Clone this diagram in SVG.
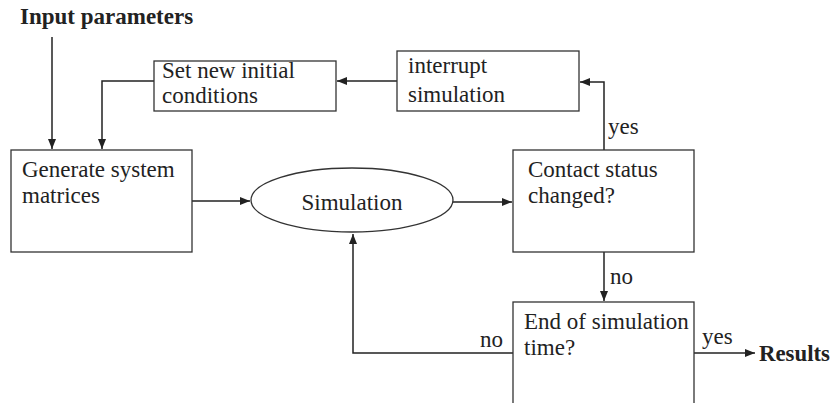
<svg xmlns="http://www.w3.org/2000/svg" width="833" height="403" viewBox="0 0 833 403">
<style>
.box{fill:#fff;stroke:#333;stroke-width:1.3}
.t{font-family:"Liberation Serif","Times New Roman",serif;font-size:23px;fill:#222}
.b{font-family:"Liberation Serif","Times New Roman",serif;font-size:23px;font-weight:bold;fill:#222}
.c{fill:none;stroke:#222;stroke-width:1.5}
</style>
<defs>
<marker id="ah" viewBox="0 0 10 10" refX="10" refY="5" markerWidth="10" markerHeight="10" markerUnits="userSpaceOnUse" orient="auto">
<path d="M0,1 L10,5 L0,9 Z" fill="#222"/>
</marker>
</defs>
<rect width="833" height="403" fill="#fff"/>
<g id="connectors">
<path class="c" d="M52,37 V149" marker-end="url(#ah)"/>
<path class="c" d="M154,81 H102 V149" marker-end="url(#ah)"/>
<path class="c" d="M397,81 H337" marker-end="url(#ah)"/>
<path class="c" d="M604,150 V82 H580" marker-end="url(#ah)"/>
<path class="c" d="M192,201 H250" marker-end="url(#ah)"/>
<path class="c" d="M453,202 H512" marker-end="url(#ah)"/>
<path class="c" d="M604,252 V301" marker-end="url(#ah)"/>
<path class="c" d="M513,353 H353 V234" marker-end="url(#ah)"/>
<path class="c" d="M694,353 H755" marker-end="url(#ah)"/>
<text class="t" x="608" y="134">yes</text>
<text class="t" x="610" y="284">no</text>
<text class="t" x="480" y="347">no</text>
<text class="t" x="702" y="344">yes</text>
</g>
<g id="input"><text class="b" x="20" y="24">Input parameters</text></g>
<g id="results"><text class="b" x="759" y="361" textLength="71" lengthAdjust="spacingAndGlyphs">Results</text></g>
<g id="setnew">
<rect class="box" x="154" y="61" width="182" height="50"/>
<text class="t" x="162" y="78">Set new initial</text>
<text class="t" x="162" y="103">conditions</text>
</g>
<g id="interrupt">
<rect class="box" x="397" y="51" width="182" height="60"/>
<text class="t" x="408" y="73">interrupt</text>
<text class="t" x="408" y="102">simulation</text>
</g>
<g id="generate">
<rect class="box" x="11" y="150" width="181" height="102"/>
<text class="t" x="22" y="177">Generate system</text>
<text class="t" x="22" y="203">matrices</text>
</g>
<g id="simulation">
<ellipse class="box" cx="352" cy="200" rx="101" ry="32"/>
<text class="t" x="352" y="210" text-anchor="middle">Simulation</text>
</g>
<g id="contact">
<rect class="box" x="513" y="150" width="181" height="102"/>
<text class="t" x="528" y="177">Contact status</text>
<text class="t" x="528" y="203">changed?</text>
</g>
<g id="end">
<rect class="box" x="513" y="302" width="181" height="110"/>
<text class="t" x="524" y="329">End of simulation</text>
<text class="t" x="524" y="355">time?</text>
</g>
</svg>
